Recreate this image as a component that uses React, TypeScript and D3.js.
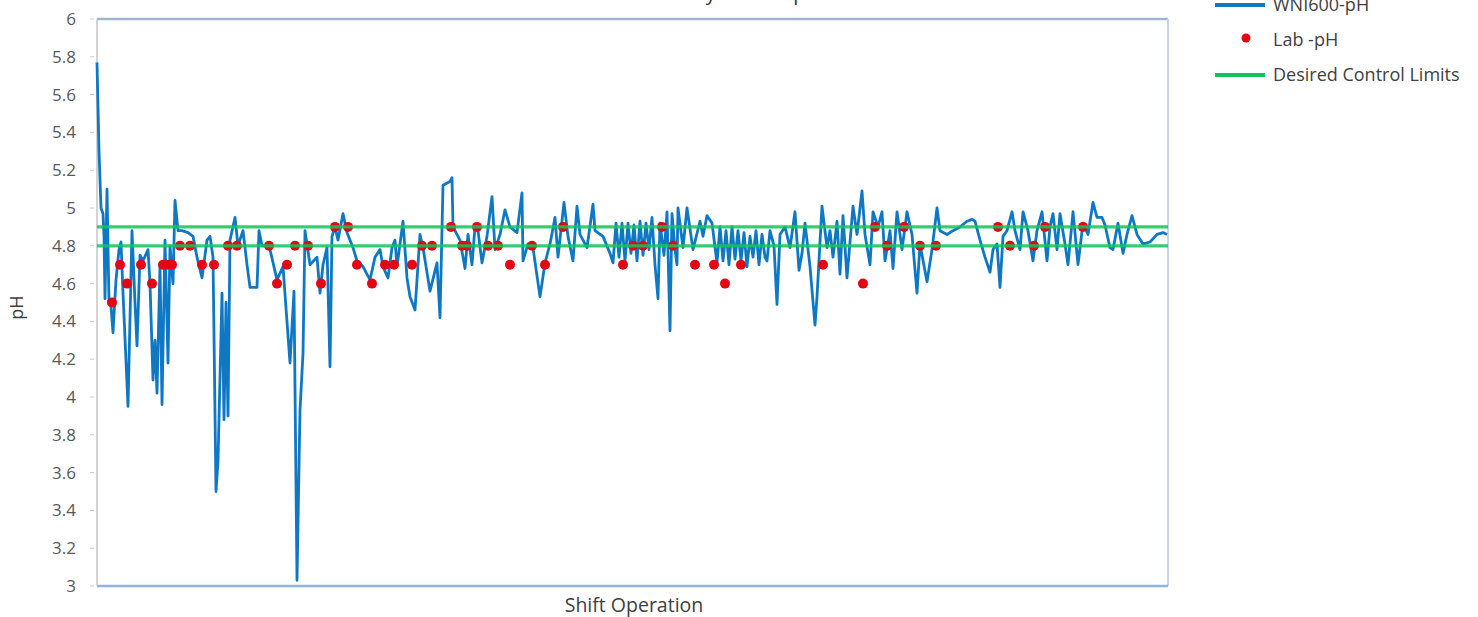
import React from "react";
import * as d3 from "d3";

// WNI600 on-line pH readings: [shift, pH]
const wniReadings: [number, number][] = [
  [0, 5.77], [2, 5.3], [4, 5.0], [6, 4.97], [7, 4.85], [8, 4.52], [10, 5.1], [12, 4.5], [14, 4.48],
  [16, 4.34], [19, 4.62], [22, 4.78], [24, 4.82], [26, 4.55], [31, 3.95], [35, 4.88], [38, 4.5],
  [40, 4.27], [43, 4.75], [46, 4.72], [51, 4.78], [53, 4.6], [56, 4.09], [58, 4.3], [60, 4.02],
  [63, 4.7], [65, 3.96], [68, 4.83], [71, 4.18], [73, 4.8], [76, 4.6], [78, 5.04], [81, 4.88],
  [85, 4.88], [91, 4.87], [96, 4.85], [100, 4.74], [105, 4.63], [108, 4.75], [110, 4.83],
  [113, 4.85], [116, 4.74], [119, 3.5], [121, 3.66], [125, 4.55], [127, 3.88], [129, 4.5],
  [131, 3.9], [133, 4.83], [138, 4.95], [141, 4.8], [146, 4.88], [150, 4.7], [153, 4.58],
  [160, 4.58], [162, 4.88], [165, 4.8], [170, 4.8], [173, 4.78], [180, 4.62], [186, 4.69],
  [193, 4.18], [197, 4.56], [200, 3.03], [203, 3.93], [206, 4.23], [208, 4.88], [213, 4.7],
  [220, 4.74], [223, 4.55], [226, 4.7], [230, 4.79], [233, 4.16], [235, 4.85], [238, 4.9],
  [241, 4.83], [246, 4.97], [250, 4.87], [256, 4.79], [260, 4.72], [266, 4.69], [273, 4.62],
  [278, 4.74], [283, 4.78], [286, 4.69], [291, 4.63], [295, 4.79], [298, 4.83], [300, 4.69],
  [306, 4.93], [310, 4.63], [313, 4.53], [318, 4.46], [323, 4.86], [326, 4.79], [333, 4.56],
  [340, 4.71], [343, 4.42], [346, 5.12], [353, 5.14], [355, 5.16], [356, 4.9], [363, 4.83],
  [368, 4.68], [371, 4.86], [375, 4.7], [378, 4.9], [381, 4.88], [385, 4.71], [390, 4.85],
  [395, 5.06], [398, 4.78], [403, 4.86], [408, 4.99], [413, 4.9], [420, 4.87], [425, 5.08],
  [426, 4.72], [431, 4.81], [436, 4.79], [443, 4.53], [448, 4.71], [453, 4.81], [458, 4.95],
  [461, 4.74], [467, 5.03], [471, 4.85], [476, 4.72], [480, 5.01], [483, 4.86], [490, 4.79],
  [496, 5.02], [498, 4.88], [506, 4.85], [513, 4.76], [516, 4.71], [519, 4.92], [522, 4.74],
  [525, 4.92], [528, 4.72], [531, 4.92], [534, 4.76], [537, 4.91], [540, 4.72], [543, 4.93],
  [546, 4.75], [549, 4.92], [552, 4.78], [555, 4.95], [558, 4.7], [561, 4.52], [563, 4.92],
  [567, 4.75], [570, 4.98], [573, 4.35], [575, 4.97], [578, 4.78], [580, 4.7], [581, 5.0],
  [586, 4.79], [590, 5.0], [596, 4.78], [603, 4.93], [606, 4.85], [610, 4.96], [615, 4.92],
  [620, 4.71], [623, 4.9], [626, 4.72], [629, 4.88], [632, 4.7], [635, 4.9], [638, 4.73],
  [641, 4.88], [644, 4.72], [647, 4.87], [650, 4.69], [653, 4.85], [656, 4.74], [659, 4.88],
  [662, 4.7], [665, 4.86], [668, 4.74], [670, 4.72], [673, 4.88], [677, 4.8], [680, 4.49],
  [683, 4.86], [688, 4.9], [693, 4.79], [698, 4.98], [702, 4.67], [705, 4.76], [708, 4.92],
  [713, 4.69], [718, 4.38], [720, 4.53], [725, 5.01], [730, 4.79], [733, 4.88], [736, 4.74],
  [740, 4.93], [743, 4.65], [746, 4.96], [750, 4.63], [756, 5.01], [760, 4.86], [765, 5.09],
  [768, 4.86], [773, 4.7], [776, 4.98], [781, 4.9], [785, 4.98], [788, 4.72], [793, 4.88],
  [796, 4.68], [800, 4.98], [805, 4.78], [810, 4.98], [815, 4.86], [820, 4.55], [823, 4.81],
  [830, 4.61], [835, 4.78], [840, 5.0], [843, 4.88], [850, 4.86], [856, 4.88], [863, 4.9],
  [870, 4.93], [875, 4.94], [878, 4.93], [883, 4.83], [888, 4.74], [893, 4.66], [896, 4.78],
  [900, 4.81], [903, 4.58], [906, 4.85], [910, 4.88], [915, 4.98], [918, 4.88], [923, 4.78],
  [926, 4.98], [931, 4.88], [936, 4.72], [940, 4.88], [945, 4.98], [950, 4.72], [953, 4.9],
  [956, 4.97], [960, 4.78], [963, 4.97], [968, 4.81], [971, 4.7], [976, 4.98], [981, 4.7],
  [986, 4.92], [991, 4.86], [996, 5.03], [1000, 4.95], [1005, 4.95], [1008, 4.91], [1013, 4.79],
  [1016, 4.78], [1021, 4.92], [1026, 4.76], [1030, 4.86], [1035, 4.96], [1040, 4.86],
  [1046, 4.81], [1053, 4.82], [1060, 4.86], [1066, 4.87], [1070, 4.86],
];

// Laboratory pH samples: [shift, pH]
const labReadings: [number, number][] = [
  [15, 4.5], [23, 4.7], [30, 4.6], [44, 4.7], [55, 4.6], [66, 4.7], [70, 4.7], [75, 4.7],
  [83, 4.8], [93, 4.8], [105, 4.7], [117, 4.7], [131, 4.8], [140, 4.8], [172, 4.8], [180, 4.6],
  [190, 4.7], [198, 4.8], [211, 4.8], [224, 4.6], [238, 4.9], [251, 4.9], [260, 4.7], [275, 4.6],
  [288, 4.7], [297, 4.7], [315, 4.7], [325, 4.8], [335, 4.8], [354, 4.9], [365, 4.8], [370, 4.8],
  [380, 4.9], [391, 4.8], [401, 4.8], [413, 4.7], [435, 4.8], [448, 4.7], [466, 4.9], [526, 4.7],
  [536, 4.8], [546, 4.8], [565, 4.9], [576, 4.8], [598, 4.7], [617, 4.7], [628, 4.6], [644, 4.7],
  [726, 4.7], [766, 4.6], [778, 4.9], [790, 4.8], [807, 4.9], [823, 4.8], [839, 4.8], [901, 4.9],
  [913, 4.8], [937, 4.8], [948, 4.9], [986, 4.9],
];

const controlLimits = [4.8, 4.9];
const yTicks = [3, 3.2, 3.4, 3.6, 3.8, 4, 4.2, 4.4, 4.6, 4.8, 5, 5.2, 5.4, 5.6, 5.8, 6];
const shiftDomain: [number, number] = [0, 1071];

const W = 1478;
const H = 617;
const plot = { left: 97, right: 1168, top: 19, bottom: 586 };
const font = "'Open Sans', 'Noto Sans', sans-serif";
const blue = "#0f78c4";
const green = "#12c45c";
const red = "#e30613";

export default function App() {
  const x = d3.scaleLinear().domain(shiftDomain).range([plot.left, plot.right]);
  const y = d3.scaleLinear().domain([3, 6]).range([plot.bottom, plot.top]);

  const line = d3
    .line<[number, number]>()
    .x((d) => x(d[0]))
    .y((d) => y(d[1]));

  const legend = [
    { label: "WNI600-pH", kind: "line", color: blue, yPos: 5 },
    { label: "Lab -pH", kind: "dot", color: red, yPos: 40 },
    { label: "Desired Control Limits", kind: "line", color: green, yPos: 75 },
  ];

  return (
    <div style={{ position: "fixed", left: 0, top: 0 }}>
      <svg width={W} height={H} style={{ display: "block", background: "#fff" }} fontFamily={font}>
        {/* title, mostly cut off at the top */}
        <text x={665} y={0} textAnchor="middle" fontSize={20} fill="#333">
          <tspan fill={blue}>WNI600</tspan> vs Laboratory Results pH
        </text>

        {/* frame */}
        <line x1={plot.left} x2={plot.right} y1={plot.top} y2={plot.top} stroke="#9fb6cf" strokeWidth={2.5} />
        <line x1={plot.right} x2={plot.right} y1={plot.top} y2={plot.bottom} stroke="#c9d6e4" strokeWidth={2} />
        <line x1={plot.left} x2={plot.right} y1={plot.bottom} y2={plot.bottom} stroke="#8fb4e3" strokeWidth={2.5} />
        <line x1={plot.left} x2={plot.left} y1={plot.top} y2={plot.bottom} stroke="#c4c4c4" strokeWidth={1.5} />

        {/* y axis */}
        {yTicks.map((t) => (
          <g key={t}>
            <line x1={plot.left - 7} x2={plot.left - 3} y1={y(t)} y2={y(t)} stroke="#c8c8c8" strokeWidth={1} />
            <text x={76} y={y(t)} dy="0.35em" textAnchor="end" fontSize={17} fill="#595959">
              {d3.format("~g")(t)}
            </text>
          </g>
        ))}
        <text transform={`translate(23,${(plot.top + plot.bottom) / 2 + 5}) rotate(-90)`} textAnchor="middle" fontSize={18} fill="#404040">
          pH
        </text>
        <text x={634} y={612} textAnchor="middle" fontSize={19.5} fill="#404040">
          Shift Operation
        </text>

        {/* WNI600 series */}
        <path d={line(wniReadings) ?? ""} fill="none" stroke={blue} strokeWidth={2.8} strokeLinejoin="round" />

        {/* lab samples */}
        {labReadings.map(([s, v], i) => (
          <circle key={i} cx={x(s)} cy={y(v)} r={5} fill={red} />
        ))}

        {/* control limits */}
        {controlLimits.map((c) => (
          <line key={c} x1={plot.left} x2={plot.right} y1={y(c)} y2={y(c)} stroke={green} strokeWidth={3.2} strokeOpacity={0.85} />
        ))}

        {/* legend */}
        {legend.map((item) => (
          <g key={item.label}>
            {item.kind === "line" ? (
              <line x1={1215} x2={1265} y1={item.yPos} y2={item.yPos} stroke={item.color} strokeWidth={4} />
            ) : (
              <circle cx={1246} cy={item.yPos - 2} r={4.5} fill={item.color} />
            )}
            <text x={1273} y={item.yPos} dy="0.35em" fontSize={18} fill="#404040">
              {item.label}
            </text>
          </g>
        ))}
      </svg>
    </div>
  );
}
